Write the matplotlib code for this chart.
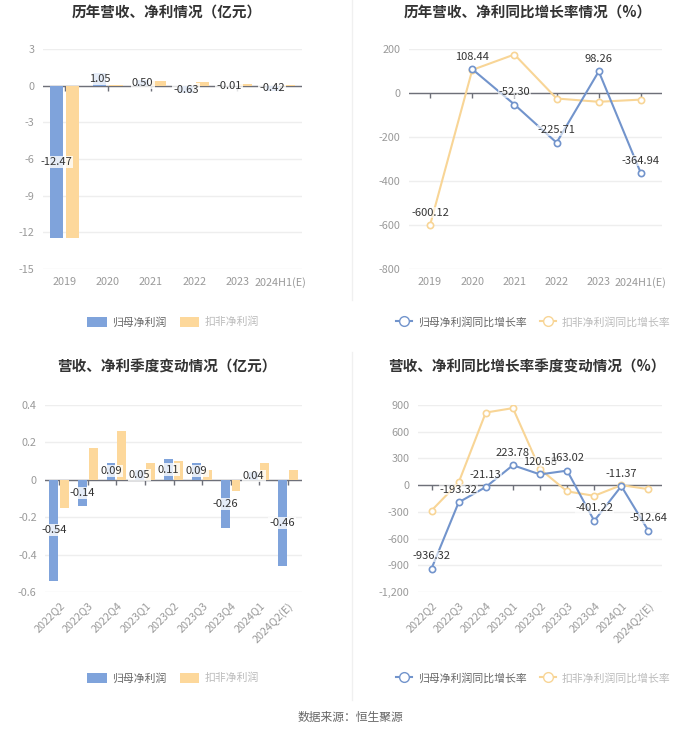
import matplotlib
matplotlib.use("Agg")
import matplotlib.pyplot as plt
import numpy as np
from matplotlib.patches import Patch
from matplotlib.lines import Line2D

plt.rcParams["font.family"] = ["Noto Sans CJK SC", "DejaVu Sans"]
plt.rcParams["axes.unicode_minus"] = False

# ---- data
years = ["2019", "2020", "2021", "2022", "2023", "2024H1(E)"]
year_net = [-12.47, 1.05, 0.50, -0.63, -0.01, -0.42]
year_deduct = [-12.50, 0.05, 0.38, 0.28, 0.10, 0.08]

year_net_growth = [np.nan, 108.44, -52.30, -225.71, 98.26, -364.94]
year_deduct_growth = [-600.12, 105.0, 175.0, -25.0, -40.0, -30.0]

quarters = ["2022Q2", "2022Q3", "2022Q4", "2023Q1", "2023Q2", "2023Q3",
            "2023Q4", "2024Q1", "2024Q2(E)"]
q_net = [-0.54, -0.14, 0.09, 0.05, 0.11, 0.09, -0.26, 0.04, -0.46]
q_deduct = [-0.15, 0.17, 0.26, 0.09, 0.10, 0.05, -0.06, 0.09, 0.05]

q_net_growth = [-936.32, -193.32, -21.13, 223.78, 120.58, 163.02, -401.22, -11.37, -512.64]
q_deduct_growth = [-285.0, 30.0, 815.0, 865.0, 180.0, -70.0, -120.0, 0.0, -45.0]

BLUE = "#7FA3DB"
ORANGE = "#FDD89B"
LBLUE = "#7294CC"
LORANGE = "#F8D596"
TICK = "#9A9A9A"
GRID = "#EEEEEE"
LABEL = "#333333"

W, H = 700, 734
fig = plt.figure(figsize=(W / 100, H / 100), dpi=100)


def px_axes(x0, y0, x1, y1):
    return fig.add_axes([x0 / W, 1 - y1 / H, (x1 - x0) / W, (y1 - y0) / H])


def style(ax, ylim, yticks, ylabels, n):
    ax.set_xlim(-0.5, n - 0.5)
    ax.set_ylim(*ylim)
    ax.set_yticks(yticks)
    ax.set_yticklabels(ylabels)
    for s in ax.spines.values():
        s.set_visible(False)
    ax.grid(axis="y", color=GRID, linewidth=1)
    ax.set_axisbelow(True)
    ax.tick_params(axis="both", length=0, labelsize=7.8, labelcolor=TICK, pad=6)
    ax.axhline(0, color="#6E7079", linewidth=1, zorder=2)
    ax.plot(range(n), [0] * n, linestyle="none", marker=3, markersize=3.5,
            color="#6E7079", markeredgewidth=1, zorder=2)
    ax.set_xticks(range(n))


def bar_panel(ax, cats, a, b, ylim, yticks):
    n = len(cats)
    x = np.arange(n)
    ax.bar(x - 0.19, a, width=0.31, color=BLUE, zorder=3)
    ax.bar(x + 0.19, b, width=0.31, color=ORANGE, zorder=3)
    for xi, v in zip(x, a):
        ax.text(xi - 0.19, v / 2, f"{v:.2f}", ha="center", va="center", fontsize=8,
                color=LABEL, zorder=5,
                bbox=dict(boxstyle="square,pad=0.1", fc="white", ec="none", alpha=0.8))
    style(ax, ylim, yticks, [f"{t:g}" for t in yticks], n)


def line_panel(ax, cats, a, b, ylim, yticks, ylabels):
    n = len(cats)
    x = np.arange(n)
    ax.plot(x, b, color=LORANGE, linewidth=1.5, marker="o", markersize=4.5,
            markerfacecolor="white", markeredgewidth=1.2, zorder=3)
    ax.plot(x, a, color=LBLUE, linewidth=1.5, marker="o", markersize=4.5,
            markerfacecolor="white", markeredgewidth=1.2, zorder=4)
    for xi, v, w in zip(x, a, b):
        val = v if not np.isnan(v) else w
        ax.annotate(f"{val:.2f}", (xi, val), xytext=(0, 9), textcoords="offset points",
                    ha="center", va="center", fontsize=8, color=LABEL, zorder=5,
                    bbox=dict(boxstyle="square,pad=0.05", fc="white", ec="none", alpha=0.6))
    style(ax, ylim, yticks, ylabels, n)


# ---- top-left
ax1 = px_axes(43, 49, 302, 269)
bar_panel(ax1, years, year_net, year_deduct, (-15, 3), [3, 0, -3, -6, -9, -12, -15])
ax1.set_xticklabels(years)

# ---- top-right
ax2 = px_axes(409, 49, 662, 269)
yt2 = [200, 0, -200, -400, -600, -800]
line_panel(ax2, years, year_net_growth, year_deduct_growth, (-800, 200), yt2,
           [f"{t:g}" for t in yt2])
ax2.set_xticklabels(years)

# ---- bottom-left
ax3 = px_axes(45, 405, 302, 592)
bar_panel(ax3, quarters, q_net, q_deduct, (-0.6, 0.4), [0.4, 0.2, 0, -0.2, -0.4, -0.6])
ax3.set_xticklabels(quarters, rotation=45, ha="right", rotation_mode="anchor")

# ---- bottom-right
ax4 = px_axes(418, 405, 662, 592)
yt4 = [900, 600, 300, 0, -300, -600, -900, -1200]
line_panel(ax4, quarters, q_net_growth, q_deduct_growth, (-1200, 900), yt4,
           [f"{t:,}" for t in yt4])
ax4.set_xticklabels(quarters, rotation=45, ha="right", rotation_mode="anchor")

# ---- titles
title_kw = dict(ha="center", va="center", fontsize=10.5, fontweight="bold", color="#333333")
fig.text(167 / W, 1 - 13 / H, "历年营收、净利情况（亿元）", **title_kw)
fig.text(528 / W, 1 - 13 / H, "历年营收、净利同比增长率情况（%）", **title_kw)
fig.text(167 / W, 1 - 367 / H, "营收、净利季度变动情况（亿元）", **title_kw)
fig.text(527 / W, 1 - 367 / H, "营收、净利同比增长率季度变动情况（%）", **title_kw)

# ---- legends
bar_handles = [Patch(facecolor=BLUE, edgecolor="none"), Patch(facecolor=ORANGE, edgecolor="none")]
line_handles = [
    Line2D([], [], color=LBLUE, marker="o", markerfacecolor="white", markersize=7, linewidth=1.5),
    Line2D([], [], color=LORANGE, marker="o", markerfacecolor="white", markersize=7, linewidth=1.5),
]
for yy in (322, 678):
    for handles, labels, xc, hl in (
        (bar_handles, ["归母净利润", "扣非净利润"], 173, 1.8),
        (line_handles, ["归母净利润同比增长率", "扣非净利润同比增长率"], 533, 1.5),
    ):
        leg = fig.legend(handles, labels, loc="center", bbox_to_anchor=(xc / W, 1 - yy / H),
                         ncol=2, frameon=False, fontsize=7.8, handlelength=hl,
                         handleheight=1.0, columnspacing=1.2, handletextpad=0.5)
        leg.get_texts()[0].set_color("#666666")
        leg.get_texts()[1].set_color("#BBBBBB")

# ---- separators and source
fig.add_artist(Line2D([352 / W, 352 / W], [1 - 0 / H, 1 - 300 / H], color="#F0F0F0", linewidth=1))
fig.add_artist(Line2D([352 / W, 352 / W], [1 - 352 / H, 1 - 700 / H], color="#F0F0F0", linewidth=1))
fig.text(350 / W, 1 - 717 / H, "数据来源：恒生聚源", ha="center", va="center",
         fontsize=8.5, color="#666666")

fig.savefig("out.png", dpi=100, facecolor="white")
